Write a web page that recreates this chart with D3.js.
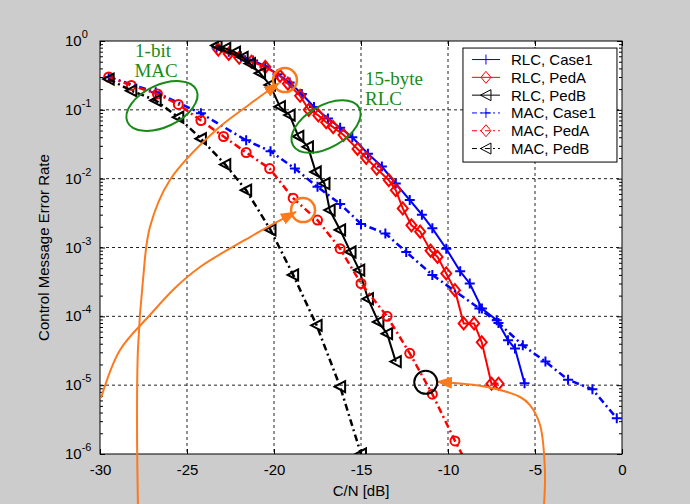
<!DOCTYPE html>
<html lang="en">

<head>
    <meta charset="UTF-8">
    <title>Control Message Error Rate vs C/N</title>
    <script src="https://d3js.org/d3.v7.min.js"></script>
    <style>
        body {
            margin: 0;
            padding: 0;
            background-color: #cccccc;
        }

        svg {
            display: block;
            font-family: "Liberation Sans", Arial, sans-serif;
        }

        .tick text {
            font-size: 15px;
            fill: #000;
        }

        .note {
            font-family: "Liberation Serif", "Times New Roman", serif;
            font-size: 19px;
            fill: #188a18;
        }
    </style>
</head>

<body>
    <div id="chart"></div>

    <script>
        // ---- data: [C/N in dB, error rate] ----
        const xTicks = [-30, -25, -20, -15, -10, -5, 0];
        const yTicks = [1e-6, 1e-5, 1e-4, 1e-3, 1e-2, 1e-1, 1];

        const rlcCase1 = [
            [-23.3, 0.8], [-22.6, 0.7], [-21.9, 0.6], [-21.2, 0.52], [-20.5, 0.43], [-19.8, 0.33],
            [-19.1, 0.25], [-18.4, 0.17], [-17.7, 0.11], [-16.9, 0.075], [-16.2, 0.055], [-15.5, 0.04],
            [-14.6, 0.023], [-13.8, 0.015], [-13.0, 0.0085], [-12.2, 0.0049], [-11.5, 0.003],
            [-10.9, 0.0019], [-10.1, 0.00096], [-9.3, 0.00045], [-8.75, 0.0003], [-8.05, 0.00013],
            [-7.2, 0.000088], [-6.55, 0.000045], [-6.15, 0.000034], [-5.6, 0.0000107]
        ];
        const rlcPedA = [
            [-23.2, 0.75], [-22.6, 0.65], [-22.0, 0.57], [-21.3, 0.5], [-20.5, 0.42], [-19.65, 0.31],
            [-19.2, 0.24], [-18.5, 0.16], [-18.0, 0.1], [-17.45, 0.083], [-17.0, 0.066], [-16.6, 0.056],
            [-16.0, 0.043], [-15.2, 0.027], [-14.7, 0.02], [-14.1, 0.014], [-13.4, 0.0095], [-13.0, 0.0068],
            [-12.6, 0.0037], [-12.1, 0.0021], [-11.6, 0.0017], [-11.0, 0.0009], [-10.6, 0.00073],
            [-10.1, 0.00042], [-9.6, 0.00024], [-9.1, 0.000079], [-8.5, 0.000079], [-8.06, 0.000042],
            [-7.5, 0.0000105], [-7.1, 0.0000105]
        ];
        const rlcPedB = [
            [-23.3, 0.86], [-22.8, 0.78], [-22.24, 0.69], [-21.8, 0.58], [-21.38, 0.47], [-20.8, 0.34],
            [-20.23, 0.23], [-19.66, 0.111], [-19.1, 0.084], [-18.6, 0.041], [-18.05, 0.029],
            [-17.6, 0.0125], [-17.1, 0.0085], [-16.8, 0.0035], [-16.2, 0.0018], [-15.6, 0.00086],
            [-15.1, 0.00047], [-14.6, 0.00018], [-14.0, 0.000083], [-13.5, 0.000056], [-13.0, 0.000022]
        ];
        const macCase1 = [
            [-29.5, 0.3], [-26.8, 0.18], [-24.2, 0.089], [-21.6, 0.036], [-20.2, 0.025], [-18.8, 0.014],
            [-17.5, 0.0076], [-16.2, 0.0043], [-15.0, 0.0022], [-13.6, 0.0016], [-12.4, 0.00086],
            [-10.9, 0.0004], [-8.2, 0.00013], [-7.1, 0.00008], [-5.7, 0.000038], [-4.4, 0.000022],
            [-3.1, 0.000012], [-1.7, 0.0000087], [-0.3, 0.0000033]
        ];
        const macPedA = [
            [-29.5, 0.3], [-28.2, 0.226], [-26.7, 0.17], [-25.5, 0.12], [-24.2, 0.07], [-22.9, 0.041],
            [-21.6, 0.024], [-20.25, 0.014], [-18.9, 0.0052], [-17.5, 0.0025], [-16.2, 0.00096],
            [-15.0, 0.0003], [-13.5, 0.0001], [-12.2, 0.000029], [-10.9, 0.0000074], [-9.6, 0.00000155],
            [-9.0, 0.0000008]
        ];
        const macPedB = [
            [-29.5, 0.28], [-28.2, 0.19], [-26.8, 0.137], [-25.5, 0.078], [-24.2, 0.038], [-22.8, 0.016],
            [-21.6, 0.0068], [-20.2, 0.0018], [-18.9, 0.0004], [-17.55, 0.000074], [-16.2, 0.0000095],
            [-15.0, 0.000001]
        ];

        // annotation positions, also in data units
        const noteText = [
            { lines: ["1-bit", "MAC"], at: [[-26.95, 0.586], [-26.78, 0.3]], anchor: "middle" },
            { lines: ["15-byte", "RLC"], at: [[-14.77, 0.2296], [-14.77, 0.1175]], anchor: "start" }
        ];
        const greenEllipses = [[-26.44, 0.1137, -25], [-17.01, 0.0573, -30]];
        const orangeRings = [[-19.37, 0.271], [-18.33, 0.0035]];
        const blackRing = [-11.28, 0.000011];
        const arrowA = [
            [-27.82, 1.87e-7], [-27.87, 2.23e-6], [-27.82, 3.24e-5], [-27.53, 3.37e-4], [-27.13, 1.99e-3],
            [-25.98, 9.57e-3], [-23.33, 0.0509], [-21.38, 0.1216], [-19.71, 0.245]
        ];
        const arrowB = [
            [-29.94, 6.5e-6], [-28.85, 3.24e-5], [-27.13, 1.045e-4], [-25.69, 2.58e-4], [-24.25, 5.21e-4],
            [-21.38, 1.42e-3], [-18.74, 3.28e-3]
        ];
        const arrowC = [
            [-4.48, 1.87e-7], [-4.43, 5.85e-7], [-4.71, 2.64e-6], [-5.29, 5.15e-6], [-5.86, 6.73e-6],
            [-7.76, 9.4e-6], [-10.63, 1.12e-5]
        ];

        const series = [
            { name: "RLC, Case1", data: rlcCase1, color: "#0000ff", dash: null, marker: "plus" },
            { name: "RLC, PedA", data: rlcPedA, color: "#ff0000", dash: null, marker: "diamond" },
            { name: "RLC, PedB", data: rlcPedB, color: "#000000", dash: null, marker: "triangle" },
            { name: "MAC, Case1", data: macCase1, color: "#0000ff", dash: "7,3.5,2,3.5", marker: "plus" },
            { name: "MAC, PedA", data: macPedA, color: "#ff0000", dash: "7,3.5,2,3.5", marker: "circle", legendMarker: "diamond" },
            { name: "MAC, PedB", data: macPedB, color: "#000000", dash: "7,3.5,2,3.5", marker: "triangle" }
        ];

        // ---- layout ----
        const margin = { top: 41, right: 68, bottom: 50, left: 100 };
        const width = 690 - margin.left - margin.right;
        const height = 504 - margin.top - margin.bottom;
        const orange = "#fb7a1e";
        const green = "#188a18";

        const svgRoot = d3.select("#chart")
            .append("svg")
            .attr("width", 690)
            .attr("height", 504);

        const defs = svgRoot.append("defs");
        defs.append("clipPath").attr("id", "plotClip")
            .append("rect").attr("width", width).attr("height", height);
        defs.append("marker")
            .attr("id", "arrowHead")
            .attr("viewBox", "0 0 16 12")
            .attr("refX", 15).attr("refY", 6)
            .attr("markerWidth", 16).attr("markerHeight", 12)
            .attr("markerUnits", "userSpaceOnUse")
            .attr("orient", "auto")
            .append("path")
            .attr("d", "M0,0L16,6L0,12Z")
            .attr("fill", orange);

        const svg = svgRoot.append("g")
            .attr("transform", `translate(${margin.left},${margin.top})`);

        const x = d3.scaleLinear().domain([-30, 0]).range([0, width]);
        const y = d3.scaleLog().domain([1e-6, 1]).range([height, 0]);

        svg.append("rect")
            .attr("width", width)
            .attr("height", height)
            .attr("fill", "#fff");

        // grid
        svg.append("g").selectAll("line")
            .data(xTicks.slice(1, -1))
            .enter().append("line")
            .attr("x1", d => x(d)).attr("x2", d => x(d))
            .attr("y1", 0).attr("y2", height)
            .attr("stroke", "#222").attr("stroke-dasharray", "3,3");
        svg.append("g").selectAll("line")
            .data(yTicks.slice(1, -1))
            .enter().append("line")
            .attr("y1", d => y(d)).attr("y2", d => y(d))
            .attr("x1", 0).attr("x2", width)
            .attr("stroke", "#222").attr("stroke-dasharray", "3,3");

        // axes (ticks point inward like matlab)
        const minorY = [];
        yTicks.slice(0, -1).forEach(d => {
            for (let k = 2; k <= 9; k++) minorY.push(d * k);
        });

        function cleanAxis(g) {
            g.select(".domain").remove();
            g.selectAll(".tick line").attr("stroke", "#000");
        }

        svg.append("g")
            .attr("transform", `translate(0,${height})`)
            .call(d3.axisBottom(x).tickValues(xTicks).tickSizeInner(-5).tickSizeOuter(0)
                .tickPadding(10).tickFormat(d => String(d)))
            .call(cleanAxis)
            .selectAll("text").style("font-family", "inherit");
        svg.append("g")
            .call(d3.axisTop(x).tickValues(xTicks).tickSizeInner(-5).tickSizeOuter(0).tickFormat(""))
            .call(cleanAxis);
        svg.append("g")
            .call(d3.axisLeft(y).tickValues(yTicks).tickSizeInner(-5).tickSizeOuter(0).tickFormat(""))
            .call(cleanAxis);
        svg.append("g")
            .call(d3.axisLeft(y).tickValues(minorY).tickSizeInner(-3).tickSizeOuter(0).tickFormat(""))
            .call(cleanAxis);
        svg.append("g")
            .attr("transform", `translate(${width},0)`)
            .call(d3.axisRight(y).tickValues(yTicks).tickSizeInner(-5).tickSizeOuter(0).tickFormat(""))
            .call(cleanAxis);
        svg.append("g")
            .attr("transform", `translate(${width},0)`)
            .call(d3.axisRight(y).tickValues(minorY).tickSizeInner(-3).tickSizeOuter(0).tickFormat(""))
            .call(cleanAxis);

        // y labels as 10^n
        const yLab = svg.append("g").selectAll("text")
            .data(yTicks)
            .enter().append("text")
            .attr("x", -35)
            .attr("y", d => y(d) + 5)
            .attr("font-size", "15px")
            .attr("fill", "#000");
        yLab.append("tspan").text("10");
        yLab.append("tspan")
            .attr("dy", -8)
            .attr("font-size", "11px")
            .text(d => Math.round(Math.log10(d)));

        // axis titles
        svg.append("text")
            .attr("x", x(-15))
            .attr("y", height + 42)
            .attr("text-anchor", "middle")
            .attr("font-size", "15px")
            .text("C/N [dB]");
        svg.append("text")
            .attr("transform", `translate(${-51},${height / 2}) rotate(-90)`)
            .attr("text-anchor", "middle")
            .attr("font-size", "15px")
            .text("Control Message Error Rate");

        // marker shapes
        function markerPath(type) {
            if (type === "plus") return "M-5,0H5M0,-5V5";
            if (type === "diamond") return "M0,-6L5,0L0,6L-5,0Z";
            if (type === "triangle") return "M-5.5,0L5,-5.5L5,5.5Z";
            return d3.arc()({ innerRadius: 0, outerRadius: 4.5, startAngle: 0, endAngle: 2 * Math.PI });
        }

        const line = d3.line()
            .x(d => x(d[0]))
            .y(d => y(d[1]));

        const plot = svg.append("g").attr("clip-path", "url(#plotClip)");

        series.forEach(s => {
            plot.append("path")
                .datum(s.data)
                .attr("fill", "none")
                .attr("stroke", s.color)
                .attr("stroke-width", s.dash ? 2.5 : 2)
                .attr("stroke-dasharray", s.dash)
                .attr("d", line);

            plot.append("g").selectAll("path")
                .data(s.data)
                .enter().append("path")
                .attr("transform", d => `translate(${x(d[0])},${y(d[1])})`)
                .attr("d", markerPath(s.marker))
                .attr("fill", "none")
                .attr("stroke", s.color)
                .attr("stroke-width", 2);
        });

        // box
        svg.append("rect")
            .attr("width", width)
            .attr("height", height)
            .attr("fill", "none")
            .attr("stroke", "#000");

        // legend
        const legend = svg.append("g").attr("transform", `translate(${x(-9.14)},${y(0.79)})`);
        legend.append("rect")
            .attr("width", 154)
            .attr("height", 114)
            .attr("fill", "#fff")
            .attr("stroke", "#000");
        const rows = legend.selectAll(".row")
            .data(series)
            .enter().append("g")
            .attr("class", "row")
            .attr("transform", (d, i) => `translate(0,${11.5 + i * 17.8})`);
        rows.append("line")
            .attr("x1", 9).attr("x2", 37)
            .attr("stroke", d => d.color)
            .attr("stroke-dasharray", d => d.dash ? "5,3,2,3" : null);
        rows.append("path")
            .attr("transform", "translate(23,0)")
            .attr("d", d => markerPath(d.legendMarker || d.marker))
            .attr("fill", "none")
            .attr("stroke", d => d.color);
        rows.append("text")
            .attr("x", 48)
            .attr("y", 5.5)
            .attr("font-size", "15px")
            .text(d => d.name);

        // annotations
        const notes = svg.append("g");
        greenEllipses.forEach(e => {
            notes.append("ellipse")
                .attr("transform", `translate(${x(e[0])},${y(e[1])}) rotate(${e[2]})`)
                .attr("rx", 38).attr("ry", 21)
                .attr("fill", "none")
                .attr("stroke", green)
                .attr("stroke-width", 2);
        });
        noteText.forEach(n => {
            n.lines.forEach((t, i) => {
                notes.append("text")
                    .attr("class", "note")
                    .attr("x", x(n.at[i][0]))
                    .attr("y", y(n.at[i][1]))
                    .attr("text-anchor", n.anchor)
                    .text(t);
            });
        });

        const curve = d3.line()
            .x(d => x(d[0]))
            .y(d => y(d[1]))
            .curve(d3.curveCatmullRom);
        [arrowA, arrowB, arrowC].forEach(a => {
            notes.append("path")
                .datum(a)
                .attr("d", curve)
                .attr("fill", "none")
                .attr("stroke", orange)
                .attr("stroke-width", 2)
                .attr("marker-end", "url(#arrowHead)");
        });
        orangeRings.forEach(r => {
            notes.append("circle")
                .attr("cx", x(r[0])).attr("cy", y(r[1]))
                .attr("r", 12)
                .attr("fill", "none")
                .attr("stroke", orange)
                .attr("stroke-width", 2.5);
        });
        notes.append("circle")
            .attr("cx", x(blackRing[0])).attr("cy", y(blackRing[1]))
            .attr("r", 11.5)
            .attr("fill", "none")
            .attr("stroke", "#000")
            .attr("stroke-width", 2);
    </script>
</body>

</html>
